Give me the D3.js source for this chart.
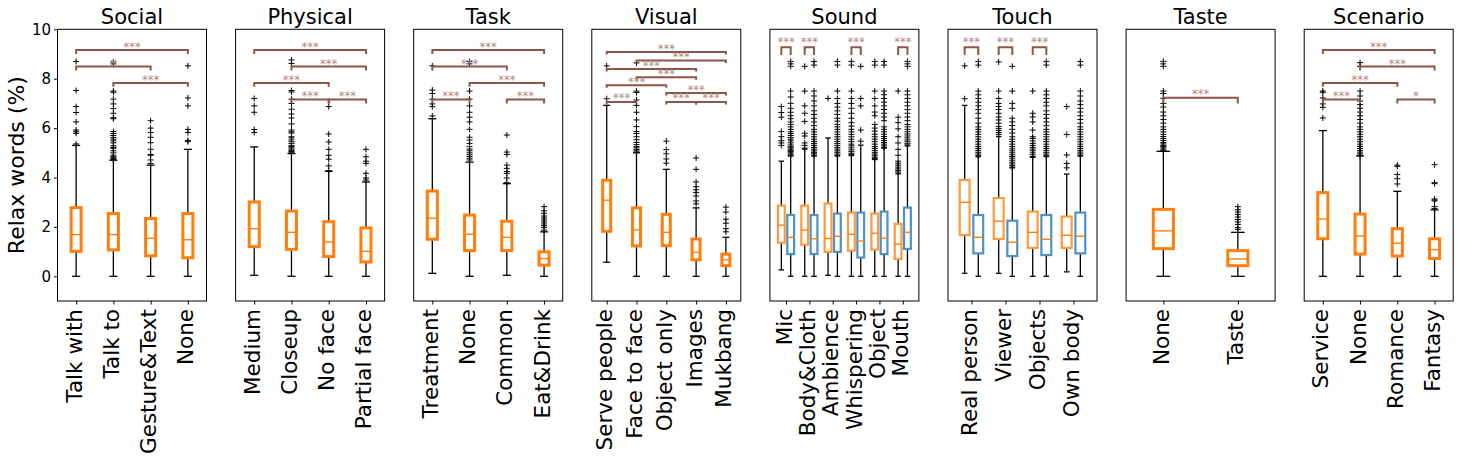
<!DOCTYPE html>
<html><head><meta charset="utf-8">
<script src="https://cdn.jsdelivr.net/npm/d3@7"></script>
<style>body{margin:0;background:#fff} text{font-family:"DejaVu Sans",sans-serif}</style>
</head><body><svg id="c" width="1459" height="461"></svg>
<script>
// ---------- DATA ----------
// stats per box: [whiskerLow, q1, median, q3, whiskerHigh]
const yTicks = [0, 2, 4, 6, 8, 10];
const panelTitles = ["Social","Physical","Task","Visual","Sound","Touch","Taste","Scenario"];

const socialCats = ["Talk with","Talk to","Gesture&Text","None"];
const socialStats = [[0,1.01,1.69,2.78,5.30],[0,1.07,1.69,2.54,4.70],[0,0.83,1.54,2.34,4.50],[0,0.75,1.48,2.54,5.14]];
const socialOut = [
 [5.36,5.79,5.85,5.92,6.25,6.63,6.87,7.52,8.70],
 [4.72,4.76,4.80,4.84,4.90,5.00,5.08,5.18,5.22,5.28,5.40,5.48,5.55,5.62,5.70,5.78,5.86,6.38,6.42,6.60,6.79,6.98,7.17,7.45,7.50,8.60,8.68],
 [4.57,4.71,4.90,4.93,5.14,5.41,5.63,5.82,6.00,6.30],
 [5.45,5.50,5.82,5.95,6.90,7.22,8.52]];
const socialSig = [[1,4,9.16,"***"],[1,3,8.49,"*"],[2,4,7.83,"***"]];

const physicalCats = ["Medium","Closeup","No face","Partial face"];
const physicalStats = [[0.04,1.20,1.93,3.01,5.24],[0,1.09,1.78,2.64,4.97],[0,0.80,1.39,2.21,4.25],[0,0.58,1.01,1.96,3.82]];
const physicalOut = [
 [5.82,5.94,6.64,6.90,7.20],
 [5.00,5.05,5.10,5.15,5.20,5.25,5.30,5.38,5.45,5.52,5.60,5.65,5.80,5.85,5.92,6.17,6.41,6.57,6.76,7.00,7.17,7.46,7.52,8.62,8.76],
 [4.28,4.47,4.74,4.90,5.14,5.44,5.76,6.87],
 [3.90,3.98,4.17,4.57,4.66,4.84,5.14]];
const physicalSig = [[1,4,9.16,"***"],[2,4,8.49,"***"],[1,3,7.83,"***"],[2,3,7.16,"***"],[3,4,7.16,"***"]];

const taskCats = ["Treatment","None","Common","Eat&Drink"];
const taskStats = [[0.12,1.50,2.35,3.45,6.38],[0,1.04,1.70,2.48,4.62],[0.04,1.04,1.58,2.23,3.75],[0,0.45,0.72,0.99,1.80]];
const taskOut = [
 [6.49,6.87,6.98,7.17,7.40,7.54,8.52],
 [4.71,4.78,4.85,4.92,5.00,5.08,5.15,5.25,5.38,5.52,5.63,5.95,6.25,6.44,6.64,6.90,7.17,7.50,8.60,8.70],
 [3.79,3.98,4.17,4.24,4.37,4.50,4.93,5.03,5.72],
 [1.87,1.98,2.05,2.12,2.20,2.28,2.36,2.44,2.55,2.65,2.82]];
const taskSig = [[1,4,9.16,"***"],[1,3,8.49,"***"],[2,4,7.83,"***"],[1,2,7.16,"***"],[3,4,7.16,"***"]];

const visualCats = ["Serve people","Face to face","Object only","Images","Mukbang"];
const visualStats = [[0.57,1.82,3.08,3.89,6.92],[0,1.23,1.88,2.77,5.00],[0,1.24,1.78,2.51,4.33],[0,0.67,0.97,1.51,2.77],[0,0.43,0.67,0.90,1.58]];
const visualOut = [
 [7.19,8.52],
 [5.03,5.08,5.14,5.20,5.25,5.33,5.42,5.53,5.65,5.78,5.86,6.06,6.33,6.64,6.92,7.14,7.44,7.50,8.64],
 [4.58,4.75,4.96,5.13,5.47],
 [2.93,3.05,3.25,3.39,3.50,3.63,3.82,4.33,4.79],
 [1.80,1.93,2.15,2.31,2.60,2.80]];
const visualSig = [[1,5,9.08,"***"],[2,5,8.74,"***"],[1,4,8.39,"***"],[2,4,8.06,"***"],[1,3,7.73,"***"],[3,5,7.42,"***"],[1,2,7.06,"***"],[3,4,7.06,"***"],[4,5,7.06,"***"]];

const soundCats = ["Mic","Body&Cloth","Ambience","Whispering","Object","Mouth"];
const soundA = [[0.26,1.36,2.07,2.86,4.66],[0,1.28,1.87,2.86,5.15],[0.04,0.99,1.53,2.95,5.60],[0,1.04,1.70,2.58,4.89],[0,1.08,1.74,2.54,4.73],[0,0.70,1.30,2.12,4.15]];
const soundB = [[0,0.90,1.58,2.48,4.87],[0,0.90,1.52,2.48,4.87],[0,0.99,1.62,2.54,4.87],[0,0.76,1.43,2.58,5.31],[0,0.90,1.54,2.62,5.19],[0,1.11,1.78,2.78,5.28]];
const soundAOut = [
 [5.30,5.40,5.49,5.65,5.86,6.44,6.63,6.87],
 [5.19,5.30,5.40,5.68,5.79,6.27,6.60,6.90,7.50,8.50],
 [7.20],
 [4.92,4.98,5.05,5.12,5.20,5.28,5.35,5.45,5.55,5.65,5.75,5.85,5.95,6.08,6.22,6.40,6.60,6.80,7.00,7.20,7.50,8.55,8.70],
 [4.76,4.82,4.88,4.95,5.02,5.10,5.18,5.25,5.35,5.45,5.55,5.65,5.75,5.88,6.00,6.15,6.50,6.65,6.90,7.20,7.50,8.55,8.70],
 [4.22,4.28,4.35,4.42,4.50,4.58,4.66,4.90,5.14,5.40,5.65,5.97,6.22,6.44,7.50]];
const soundBOut = [
 [4.90,4.95,5.00,5.05,5.10,5.15,5.20,5.25,5.32,5.40,5.48,5.55,5.62,5.70,5.78,5.85,5.95,6.05,6.15,6.25,6.38,6.50,6.64,6.80,7.00,7.26,7.50,8.50,8.60,8.70],
 [4.90,4.96,5.02,5.08,5.15,5.22,5.30,5.38,5.46,5.55,5.65,5.75,5.85,5.95,6.10,6.25,6.40,6.55,6.70,6.90,7.10,7.30,7.50,8.55,8.70],
 [4.90,4.95,5.02,5.08,5.15,5.22,5.30,5.38,5.46,5.55,5.65,5.75,5.85,5.95,6.05,6.15,6.28,6.40,6.55,6.70,6.85,7.00,7.20,7.50,8.55,8.70],
 [5.47,5.92,6.90,7.20,8.50],
 [5.22,5.28,5.35,5.42,5.50,5.58,5.66,5.75,5.85,5.95,6.05,6.30,6.45,6.60,6.75,6.90,7.05,7.20,7.35,7.50,8.55,8.70],
 [5.32,5.38,5.45,5.52,5.60,5.68,5.76,5.85,5.95,6.05,6.15,6.30,6.45,6.60,6.75,6.90,7.05,7.20,7.35,7.50,8.50,8.60,8.70]];
const soundSig = [[1,9.27,"***"],[2,9.27,"***"],[4,9.27,"***"],[6,9.27,"***"]];

const touchCats = ["Real person","Viewer","Objects","Own body"];
const touchA = [[0.12,1.67,3.00,3.90,6.92],[0.12,1.51,2.23,3.17,5.66],[0,1.15,1.78,2.62,4.82],[0.18,1.15,1.66,2.42,4.14]];
const touchB = [[0,0.93,1.58,2.48,4.84],[0,0.82,1.38,2.25,4.39],[0,0.86,1.50,2.48,4.85],[0,0.93,1.62,2.58,4.87]];
const touchAOut = [
 [7.19,8.52],
 [5.75,5.82,5.90,5.98,6.06,6.20,6.33,6.45,6.60,6.75,6.87,7.00,7.20,7.50,8.68],
 [4.85,4.92,5.00,5.08,5.15,5.22,5.30,5.38,5.48,5.58,5.65,5.92,6.25,6.45,6.60,7.50],
 [4.39,4.57,4.91,5.74,6.87]];
const touchBOut = [
 [4.88,4.95,5.02,5.10,5.18,5.26,5.35,5.45,5.55,5.65,5.75,5.85,5.95,6.05,6.20,6.40,6.60,6.75,6.90,7.05,7.20,7.35,7.50,8.55,8.70],
 [4.42,4.48,4.55,4.62,4.70,4.78,4.85,4.92,5.00,5.08,5.16,5.25,5.35,5.45,5.55,5.65,5.80,5.95,6.10,6.25,6.40,6.80,7.00,7.50,8.50],
 [4.88,4.95,5.02,5.10,5.18,5.26,5.35,5.45,5.55,5.65,5.75,5.85,5.95,6.10,6.25,6.40,6.55,6.70,6.90,7.05,7.20,7.35,7.50,8.55,8.70],
 [4.90,4.96,5.03,5.10,5.18,5.26,5.35,5.45,5.55,5.65,5.75,5.85,5.95,6.05,6.20,6.35,6.50,6.65,6.80,6.95,7.10,7.30,7.50,8.55,8.70]];
const touchSig = [[1,9.27,"***"],[2,9.27,"***"],[3,9.27,"***"]];

const tasteCats = ["None","Taste"];
const tasteStats = [[0,1.12,1.84,2.71,5.06],[0,0.43,0.70,1.04,1.78]];
const tasteOut = [
 [5.10,5.15,5.20,5.25,5.30,5.36,5.42,5.50,5.58,5.66,5.75,5.85,5.95,6.05,6.20,6.35,6.50,6.65,6.85,7.00,7.20,7.40,7.50,8.50,8.60,8.70],
 [1.90,1.97,2.10,2.20,2.30,2.40,2.50,2.60,2.69,2.82]];
const tasteSig = [[1,2,7.23,"***"]];

const scenarioCats = ["Service","None","Romance","Fantasy"];
const scenarioStats = [[0,1.52,2.32,3.39,5.90],[0,0.90,1.63,2.52,4.87],[0,0.82,1.34,1.93,3.44],[0,0.72,1.08,1.52,2.69]];
const scenarioOut = [
 [6.41,6.84,6.98,7.22,7.45,7.50],
 [4.90,4.96,5.03,5.10,5.18,5.26,5.35,5.45,5.55,5.65,5.75,5.85,5.95,6.05,6.20,6.35,6.50,6.65,6.80,6.95,7.10,7.30,7.50,8.50,8.65],
 [3.74,3.95,4.12,4.45,4.50],
 [2.74,2.82,3.05,3.09,3.13,3.75,3.79,4.52]];
const scenarioSig = [[1,4,9.16,"***"],[2,4,8.49,"***"],[1,3,7.83,"***"],[1,2,7.16,"***"],[3,4,7.16,"*"]];

// ---------- LAYOUT / STYLE ----------
const panels = [
 {type:"single", cats:socialCats, stats:socialStats, out:socialOut, sig:socialSig, h:0.16, tdy:1},
 {type:"single", cats:physicalCats, stats:physicalStats, out:physicalOut, sig:physicalSig, h:0.16, tdy:1},
 {type:"single", cats:taskCats, stats:taskStats, out:taskOut, sig:taskSig, h:0.16, tdy:1},
 {type:"single", cats:visualCats, stats:visualStats, out:visualOut, sig:visualSig, h:0.1, tdy:0.5},
 {type:"pair", cats:soundCats, a:soundA, b:soundB, aOut:soundAOut, bOut:soundBOut, sig:soundSig, h:0.31, tdy:-1.3},
 {type:"pair", cats:touchCats, a:touchA, b:touchB, aOut:touchAOut, bOut:touchBOut, sig:touchSig, h:0.31, tdy:-1.3},
 {type:"single", cats:tasteCats, stats:tasteStats, out:tasteOut, sig:tasteSig, h:0.23, tdy:0.5},
 {type:"single", cats:scenarioCats, stats:scenarioStats, out:scenarioOut, sig:scenarioSig, h:0.16, tdy:1}
];

const svg = d3.select("#c");
svg.append("rect").attr("width",1459).attr("height",461).attr("fill","#fff");
const TOP = 29.3, BOT = 301, PW = 149, LEFT0 = 57.5, STEP = 178.1;
const y = d3.scaleLinear().domain([-1, 10]).range([BOT, TOP]);
const ORANGE = "#ff7f0e", ORANGE_L = "#ff993e", BLUE_L = "#4c92c3", BROWN = "#8c564b";

function plus(g, cx, v) {
  const cy = y(v);
  g.append("path").attr("d", `M${cx-3},${cy}H${cx+3}M${cx},${cy-3}V${cy+3}`)
    .attr("stroke","#000").attr("stroke-width",1).attr("fill","none");
}

function drawBox(g, cx, s, out, wPx, capPx, col, sw) {
  const [lo,q1,md,q3,hi] = s;
  g.append("line").attr("x1",cx).attr("x2",cx).attr("y1",y(q1)).attr("y2",y(lo)).attr("stroke","#000").attr("stroke-width",1.3);
  g.append("line").attr("x1",cx).attr("x2",cx).attr("y1",y(q3)).attr("y2",y(hi)).attr("stroke","#000").attr("stroke-width",1.3);
  g.append("line").attr("x1",cx-capPx/2).attr("x2",cx+capPx/2).attr("y1",y(lo)).attr("y2",y(lo)).attr("stroke","#000").attr("stroke-width",1.3);
  g.append("line").attr("x1",cx-capPx/2).attr("x2",cx+capPx/2).attr("y1",y(hi)).attr("y2",y(hi)).attr("stroke","#000").attr("stroke-width",1.3);
  g.append("rect").attr("x",cx-wPx/2).attr("y",y(q3)).attr("width",wPx).attr("height",y(q1)-y(q3))
    .attr("fill","#fff").attr("stroke",col).attr("stroke-width",sw);
  g.append("line").attr("x1",cx-wPx/2).attr("x2",cx+wPx/2).attr("y1",y(md)).attr("y2",y(md)).attr("stroke",ORANGE).attr("stroke-width",1.4);
  out.forEach(v => plus(g, cx, v));
}

function bracket(g, x1, x2, top, h, txt, tdy) {
  g.append("path").attr("d", `M${x1},${y(top-h)}V${y(top)}H${x2}V${y(top-h)}`)
    .attr("stroke",BROWN).attr("stroke-width",2).attr("fill","none");
  g.append("text").attr("x",(x1+x2)/2).attr("y",y(top)+tdy).attr("text-anchor","middle")
    .attr("font-size",11.5).attr("fill","#b08a82").text(txt);
}

panels.forEach((p, k) => {
  const left = LEFT0 + k*STEP;
  const n = p.cats.length;
  const g = svg.append("g");
  const x = p.type === "single"
    ? d3.scaleLinear().domain([0.5, n+0.5]).range([left, left+PW])
    : d3.scaleLinear().domain([0.31, n+0.69]).range([left, left+PW]);
  const unit = x(2) - x(1);

  if (p.type === "single") {
    p.stats.forEach((s, i) => {
      drawBox(g, x(i+1), s, p.out[i], 0.27*unit, 0.15*unit+2.5, ORANGE, 3);
    });
    p.sig.forEach(([a,b,top,t]) => bracket(g, x(a), x(b), top, p.h, t, p.tdy));
  } else {
    p.a.forEach((s, i) => {
      drawBox(g, x(i+1-0.2), s, p.aOut[i], 0.29*unit, 5.5, ORANGE_L, 2.2);
      drawBox(g, x(i+1+0.2), p.b[i], p.bOut[i], 0.29*unit, 5.5, BLUE_L, 2.2);
    });
    p.sig.forEach(([c,top,t]) => bracket(g, x(c-0.2), x(c+0.2), top, p.h, t, p.tdy));
  }

  // frame
  g.append("rect").attr("x",left).attr("y",TOP).attr("width",PW).attr("height",BOT-TOP)
    .attr("fill","none").attr("stroke","#000").attr("stroke-width",1);

  // x axis ticks and labels
  const ax = g.append("g").attr("transform",`translate(0,${BOT})`)
    .call(d3.axisBottom(x).tickValues(d3.range(1, n+1)).tickSize(3.5).tickFormat(""));
  ax.select(".domain").remove();
  ax.selectAll("line").attr("stroke","#000").attr("stroke-width",1);
  p.cats.forEach((c, i) => {
    g.append("text").attr("transform",`translate(${x(i+1)+5.5},309) rotate(-90)`)
      .attr("text-anchor","end").attr("font-size",21.5).attr("fill","#000").text(c);
  });

  // title
  g.append("text").attr("x", left+PW/2).attr("y", 23.5).attr("text-anchor","middle")
    .attr("font-size",21).attr("fill","#000").text(panelTitles[k]);

  if (k === 0) {
    const ay = g.append("g").attr("transform",`translate(${left},0)`)
      .call(d3.axisLeft(y).tickValues(yTicks).tickSize(3.5).tickPadding(3));
    ay.select(".domain").remove();
    ay.selectAll("line").attr("stroke","#000");
    ay.selectAll("text").attr("font-size",15).attr("font-family","DejaVu Sans").attr("fill","#000");
  }
});

svg.append("text").attr("transform",`translate(23.5,${(TOP+BOT)/2}) rotate(-90)`)
  .attr("text-anchor","middle").attr("font-size",22).attr("fill","#000").text("Relax words (%)");
</script>
</body></html>
